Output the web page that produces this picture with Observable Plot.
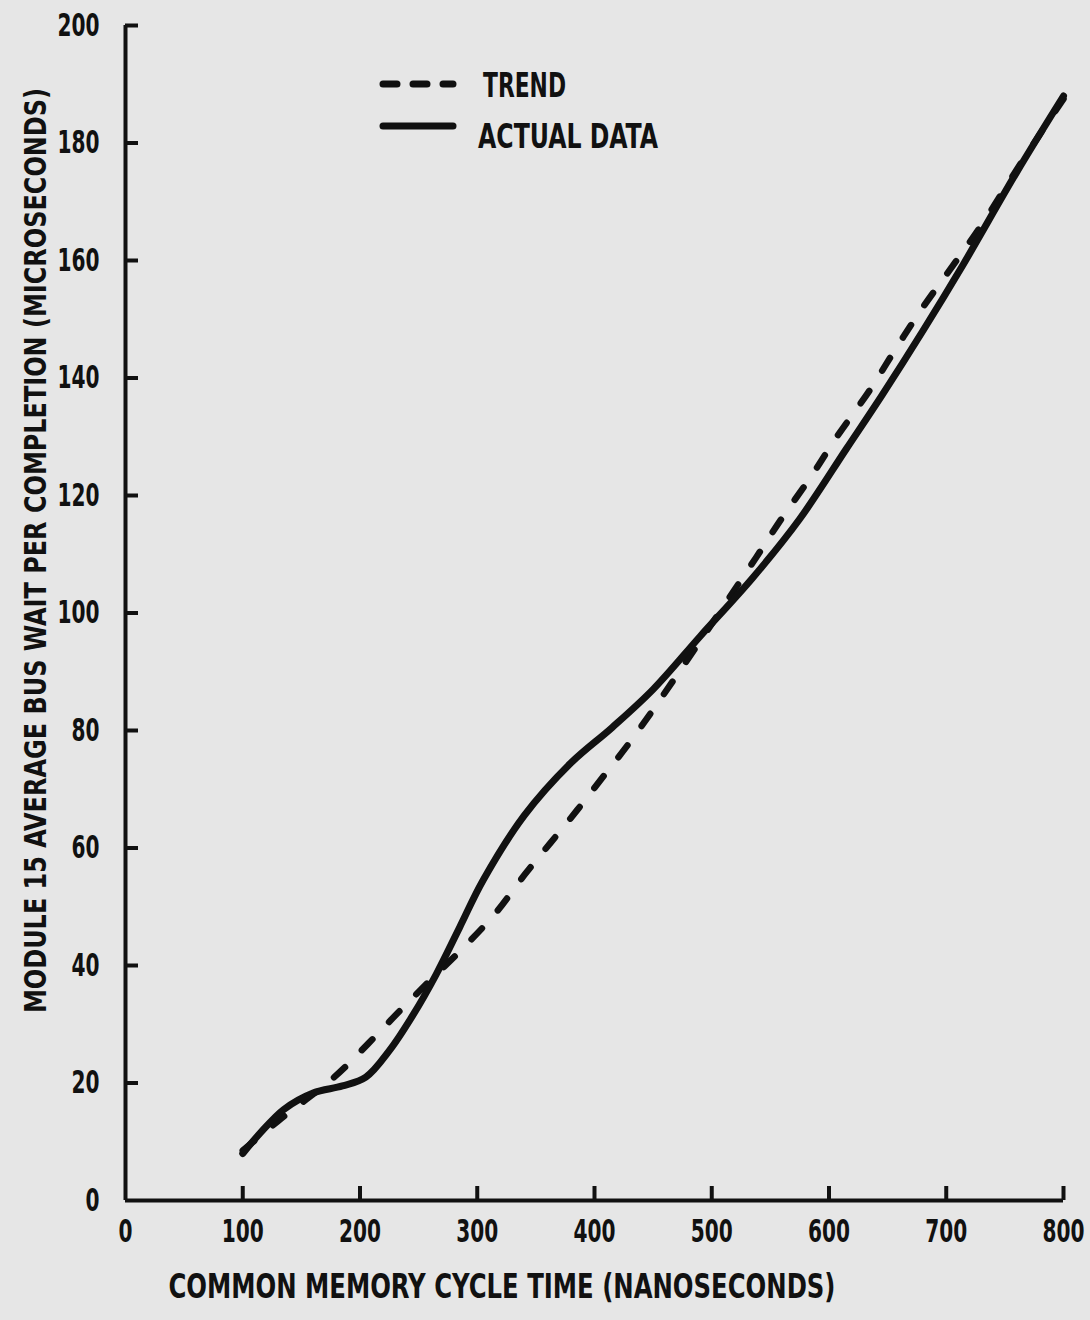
<!DOCTYPE html>
<html>
<head>
<meta charset="utf-8">
<script src="https://cdn.jsdelivr.net/npm/d3@7"></script>
<script src="https://cdn.jsdelivr.net/npm/@observablehq/plot@0.6"></script>
<style>
  html, body { margin: 0; padding: 0; background: #e6e6e6; }
  #wrap { position: relative; width: 1090px; height: 1320px; overflow: hidden; background: #e6e6e6; }
  #legend { position: absolute; left: 0; top: 0; }
</style>
</head>
<body>
<div id="wrap"></div>
<script>
const FONT = '"Liberation Sans Narrow","DejaVu Sans Condensed","Arial Narrow","Liberation Sans",sans-serif';
const INK = "#111";

// Axis titles and ticks
const xTitle = "COMMON MEMORY CYCLE TIME (NANOSECONDS)";
const yTitle = "MODULE 15 AVERAGE BUS WAIT PER COMPLETION (MICROSECONDS)";
const xTicks = [0, 100, 200, 300, 400, 500, 600, 700, 800];
const yTicks = [0, 20, 40, 60, 80, 100, 120, 140, 160, 180, 200];

// ACTUAL DATA (solid)
const actualX = [100, 115, 135, 160, 185, 205, 225, 245, 265, 285, 305, 340, 380, 415, 450, 490, 535, 575, 615, 645, 680, 715, 760, 800];
const actualY = [8, 11.5, 15.5, 18.3, 19.5, 21, 25.5, 31.5, 38.5, 46.5, 54.5, 65.5, 74.5, 80.5, 87, 96, 106, 116, 128, 137, 148, 159.5, 175, 188];

// TREND (dashed)
const trendX = [100, 130, 178, 207, 234, 260, 288, 316, 341, 363, 385, 408, 432, 474, 538, 560, 585, 605, 635, 657, 680, 707, 730, 765, 800];
const trendY = [8.5, 13.5, 21, 26.7, 32.3, 37.5, 43, 49, 55.6, 61, 66.4, 72.3, 78.5, 90.5, 109.5, 116.2, 123.3, 129.5, 138, 145, 152, 159.5, 166, 177, 187.5];

const legendLabels = ["TREND", "ACTUAL DATA"];

const actual = actualX.map((x, i) => ({x, y: actualY[i]}));
const trend = trendX.map((x, i) => ({x, y: trendY[i]}));

const plot = Plot.plot({
  width: 1090,
  height: 1320,
  marginLeft: 125,
  marginRight: 27,
  marginTop: 25,
  marginBottom: 120,
  style: {background: "transparent", fontFamily: FONT, fontSize: "32px", fontWeight: "bold", color: INK, overflow: "visible"},
  x: {domain: [0, 800], axis: null},
  y: {domain: [0, 200], axis: null},
  marks: [
    // axis lines and inward ticks
    Plot.ruleX([0], {stroke: INK, strokeWidth: 4}),
    Plot.ruleY([0], {stroke: INK, strokeWidth: 4}),
    Plot.ruleX(xTicks.filter(d => d > 0), {x: d => d, y1: 0, y2: 0, insetBottom: 14, stroke: INK, strokeWidth: 4}),
    Plot.ruleY(yTicks.filter(d => d > 0), {y: d => d, x1: 0, x2: 0, insetRight: -13, stroke: INK, strokeWidth: 4}),
    // series
    Plot.line(trend, {x: "x", y: "y", stroke: INK, strokeWidth: 6.5, strokeDasharray: "15,24", strokeLinecap: "round", curve: "catmull-rom"}),
    Plot.line(actual, {x: "x", y: "y", stroke: INK, strokeWidth: 7, strokeLinecap: "round", curve: "catmull-rom"}),
    // tick labels (text mark #0 and #1)
    Plot.text(xTicks, {x: d => d, text: d => String(d), frameAnchor: "bottom", lineAnchor: "top", textAnchor: "start", dy: 19, fontSize: 32, fontWeight: "bold", fill: INK}),
    Plot.text(yTicks, {y: d => d, text: d => String(d), frameAnchor: "left", textAnchor: "start", dx: -26, fontSize: 32, fontWeight: "bold", fill: INK}),
    // axis titles (text mark #2 and #3)
    Plot.text([yTitle], {text: d => d, frameAnchor: "left", textAnchor: "start", rotate: -90, dx: -89, dy: 400, fontSize: 31, fontWeight: "bold", fill: INK}),
    Plot.text([xTitle], {text: d => d, frameAnchor: "bottom", textAnchor: "start", dx: -426, dy: 97, fontSize: 33, fontWeight: "bold", fill: INK})
  ]
});

document.getElementById("wrap").appendChild(plot);

// Condense texts to the reference widths
const textGroups = Array.from(plot.querySelectorAll("g")).filter(g =>
  Array.from(g.children).some(c => c.tagName.toLowerCase() === "text") &&
  Array.from(g.children).every(c => c.tagName.toLowerCase() === "text"));
function fit(g, lenFn, shiftFn) {
  if (!g) return;
  g.querySelectorAll("text").forEach(t => {
    const w = lenFn(t.textContent);
    t.setAttribute("textLength", w);
    t.setAttribute("lengthAdjust", "spacingAndGlyphs");
    if (shiftFn) t.setAttribute("dx", shiftFn(w));
  });
}
const CHAR_W = 14;
fit(textGroups[0], s => s.length * CHAR_W, w => -w / 2);
fit(textGroups[1], s => s.length * CHAR_W, w => -w);
fit(textGroups[2], () => 925);
fit(textGroups[3], () => 667);

// Legend (inside the plot area, top-left)
const lg = d3.select("#wrap").append("svg")
  .attr("id", "legend").attr("width", 1090).attr("height", 200)
  .style("font-family", FONT).style("font-weight", "bold");
const rows = [
  {label: legendLabels[0], dash: "14,16", y: 84, tx: 483, tw: 83},
  {label: legendLabels[1], dash: null, y: 126, tx: 478, tw: 180}
];
rows.forEach((r, i) => {
  lg.append("line").attr("x1", 383).attr("x2", 453).attr("y1", r.y).attr("y2", r.y)
    .attr("stroke", INK).attr("stroke-width", 7).attr("stroke-linecap", "round")
    .attr("stroke-dasharray", r.dash);
  lg.append("text").attr("x", r.tx).attr("y", r.y + (i === 0 ? 13 : 22))
    .attr("font-size", 33).attr("fill", INK)
    .attr("textLength", r.tw).attr("lengthAdjust", "spacingAndGlyphs")
    .text(r.label);
});
</script>
</body>
</html>
